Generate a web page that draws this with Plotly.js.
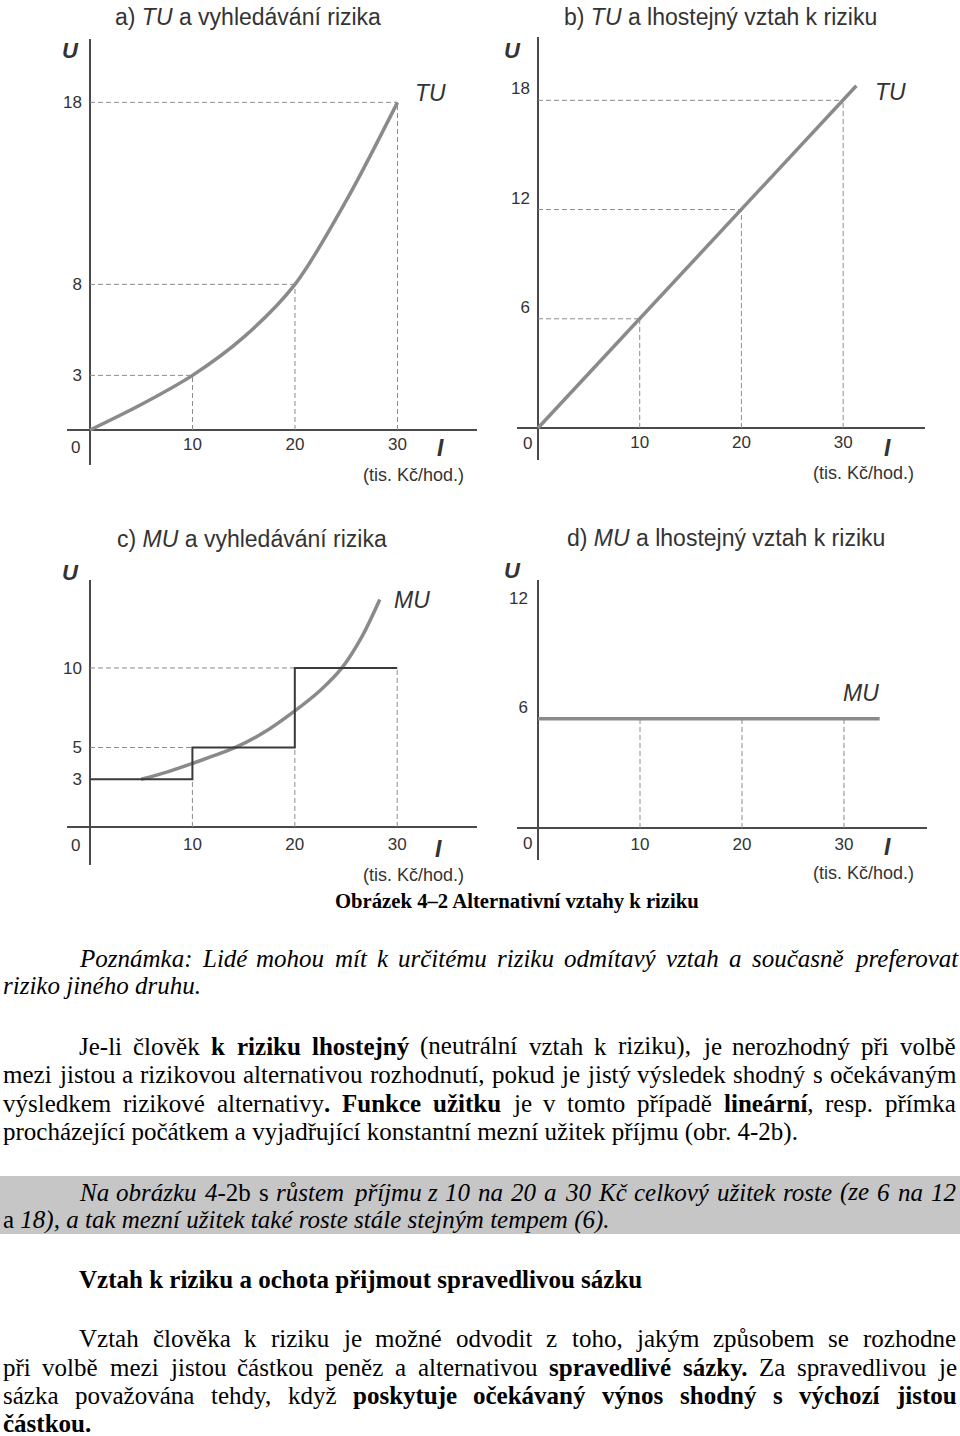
<!DOCTYPE html>
<html><head><meta charset="utf-8">
<script src="https://cdn.plot.ly/plotly-3.0.1.min.js"></script>
<style>html,body{margin:0;padding:0;background:#fff}#chart{width:960px;height:1436px}</style>
</head><body><div id="chart"></div>
<script>
// ---------- data ----------
const incomeTicks = [10, 20, 30];
// a) TU, risk seeking
const tuA_I = [0, 5, 10, 15, 20, 25, 30];
const tuA_U = [0, 1.4, 3, 5.1, 8, 12.6, 18];
const refA_I = [10, 20, 30];
const refA_U = [3, 8, 18];
// b) TU, risk neutral
const tuB_I = [0, 10, 20, 30, 31.3];
const tuB_U = [0, 6, 12, 18, 18.8];
const refB_I = [10, 20, 30];
const refB_U = [6, 12, 18];
// c) MU, risk seeking
const muC_I = [5, 7.5, 10, 14.2, 17, 20, 22.5, 24.6, 26.5, 28.3];
const muC_U = [3, 3.45, 4.0, 5, 5.95, 7.3, 8.6, 10, 11.9, 14.3];
const stepEdges = [0, 10, 20, 30];
const stepMU = [3, 5, 10];
// d) MU, risk neutral
const muD_I = [0, 33.5];
const muD_U = [6, 6];
const refD_I = [10, 20, 30];
// tick labels
const tickA_U = [3, 8, 18];
const tickB_U = [6, 12, 18];
const tickC_U = [3, 5, 10];
const tickD_U = [6, 12];

// ---------- text ----------
const titles = ['a) <i>TU</i> a vyhledávání rizika', 'b) <i>TU</i> a lhostejný vztah k riziku',
                'c) <i>MU</i> a vyhledávání rizika', 'd) <i>MU</i> a lhostejný vztah k riziku'];
const unitLabel = '(tis. Kč/hod.)';
const caption = 'Obrázek 4–2 Alternativní vztahy k riziku';
// each line: [y, xStart, justify, segments]
const bodyLines = [
  [958, 78, true,  [['Poznámka: Lidé mohou mít k určitému riziku odmítavý vztah a současně preferovat', 'i']]],
  [986, 2, false,  [['riziko jiného druhu.', 'i']]],
  [1046, 78, true, [['Je-li člověk ', 'n'], ['k riziku lhostejný', 'b'], [' (neutrální vztah k riziku), je nerozhodný při volbě', 'n']]],
  [1074, 2, true,  [['mezi jistou a rizikovou alternativou rozhodnutí, pokud je jistý výsledek shodný s očekávaným', 'n']]],
  [1103, 2, true,  [['výsledkem rizikové alternativy', 'n'], ['. Funkce užitku', 'b'], [' je v tomto případě ', 'n'], ['lineární', 'b'], [', resp. přímka', 'n']]],
  [1132, 2, false, [['procházející počátkem a vyjadřující konstantní mezní užitek příjmu (obr. 4-2b).', 'n']]],
  [1192, 78, true, [['Na obrázku 4-', 'i'], ['2b s', 'n'], [' růstem příjmu z 10 na 20 a 30 Kč celkový užitek roste (ze 6 na 12', 'i']]],
  [1220, 2, false, [['a ', 'n'], ['18), a tak mezní užitek také roste stále stejným tempem (6).', 'i']]],
  [1279, 78, false, [['Vztah k riziku a ochota přijmout spravedlivou sázku', 'b']]],
  [1338, 78, true, [['Vztah člověka k riziku je možné odvodit z toho, jakým způsobem se rozhodne', 'n']]],
  [1367, 2, true,  [['při volbě mezi jistou částkou peněz a alternativou ', 'n'], ['spravedlivé sázky.', 'b'], [' Za spravedlivou je', 'n']]],
  [1395, 2, true,  [['sázka považována tehdy, když ', 'n'], ['poskytuje očekávaný výnos shodný s výchozí jistou', 'b']]],
  [1423, 2, false, [['částkou.', 'b']]]
];

// ---------- helpers ----------
const W = 960, H = 1436;
const px = v => v / W, py = v => 1 - v / H;
const SANS = 'Liberation Sans', SERIF = 'Liberation Serif';
const canvas = document.createElement('canvas');
const ctx = canvas.getContext('2d');
function measure(t, s, size) {
  ctx.font = (s.includes('i') ? 'italic ' : '') + (s.includes('b') ? 'bold ' : '') + size + 'px "' + SERIF + '"';
  return ctx.measureText(t).width;
}
function wrap(t, s) {
  if (s === 'b') return '<b>' + t + '</b>';
  if (s === 'i') return '<i>' + t + '</i>';
  if (s === 'bi') return '<b><i>' + t + '</i></b>';
  return t;
}
// body font size fitted to the width of a non-justified reference line
const fitRef = 'procházející počátkem a vyjadřující konstantní mezní užitek příjmu (obr. 4-2b).';
let bodySize = 22 * 795 / measure(fitRef, 'n', 22);
bodySize = Math.round(bodySize * 10) / 10;
let capSize = 18 * 365 / measure(caption, 'b', 18);

const annotations = [];
function label(text, x, y, size, opts) {
  annotations.push(Object.assign({
    text: text, x: px(x), y: py(y), xref: 'paper', yref: 'paper',
    xanchor: 'center', yanchor: 'middle', showarrow: false, borderpad: 0,
    font: {family: SANS, size: size, color: '#333'}
  }, opts || {}));
}

// chart labels
const lay = [
  {t: [248, 17], U: [70, 50], N: ['TU', 430, 93], I: [440, 448], tis: [413, 475], z: [75, 448]},
  {t: [720, 17], U: [512, 50], N: ['TU', 890, 92], I: [887, 448], tis: [863, 473], z: [527, 443]},
  {t: [252, 539], U: [70, 572], N: ['MU', 412, 600], I: [438, 849], tis: [413, 875], z: [75, 845]},
  {t: [726, 538], U: [512, 570], N: ['MU', 861, 693], I: [887, 847], tis: [863, 873], z: [527, 843]}
];
lay.forEach((L, k) => {
  label(titles[k], L.t[0], L.t[1], 23);
  label('<b><i>U</i></b>', L.U[0], L.U[1], 22);
  label('<i>' + L.N[0] + '</i>', L.N[1], L.N[2], 23);
  label('<b><i>I</i></b>', L.I[0], L.I[1], 23);
  label(unitLabel, L.tis[0], L.tis[1], 18);
  label('0', L.z[0], L.z[1], 17);
});
label('<b>' + caption + '</b>', 517, 902, capSize, {font: {family: SERIF, size: capSize, color: '#000'}});

// body text; justified lines are laid out word by word
bodyLines.forEach(([y, x0, justify, segs]) => {
  const base = {xref: 'paper', yref: 'paper', y: py(y), xanchor: 'left', yanchor: 'middle',
                showarrow: false, borderpad: 0, font: {family: SERIF, size: bodySize, color: '#000'}};
  if (!justify) {
    annotations.push(Object.assign({text: segs.map(([t, s]) => wrap(t, s)).join(''), x: px(x0)}, base));
    return;
  }
  const words = [];
  let cur = null;
  segs.forEach(([t, s]) => {
    t.split(' ').forEach((part, j) => {
      if (j > 0) cur = null;
      if (part !== '') {
        if (!cur) { cur = []; words.push(cur); }
        cur.push([part, s]);
      }
    });
  });
  const widths = words.map(w => w.reduce((a, [t, s]) => a + measure(t, s, bodySize), 0));
  const total = widths.reduce((a, b) => a + b, 0);
  const gap = (955 - x0 - total) / (words.length - 1);
  let x = x0;
  words.forEach((w, i) => {
    annotations.push(Object.assign({text: w.map(([t, s]) => wrap(t, s)).join(''), x: px(x)}, base));
    x += widths[i] + gap;
  });
});

// ---------- traces ----------
const traces = [];
const CURVE = '#8a8a8a', DASH = '#8c8c8c', STEP = '#3a3a3a';
function line(xs, ys, ax, color, width, dash, shape, smooth) {
  traces.push({x: xs, y: ys, xaxis: ax[0], yaxis: ax[1], type: 'scatter', mode: 'lines',
    line: {color: color, width: width, dash: dash || 'solid', shape: shape || 'linear', smoothing: smooth || 1},
    hoverinfo: 'skip', showlegend: false});
}
function guides(xs, ys, ax) {
  xs.forEach((x, i) => {
    line([0, x], [ys[i], ys[i]], ax, DASH, 1, '5px,3px');
    line([x, x], [0, ys[i]], ax, DASH, 1, '5px,3px');
  });
}
// a
guides(refA_I, refA_U, ['x', 'y']);
line(tuA_I, tuA_U, ['x', 'y'], CURVE, 3.5, 'solid', 'spline', 0.9);
// b
guides(refB_I, refB_U, ['x2', 'y2']);
line(tuB_I, tuB_U, ['x2', 'y2'], CURVE, 3.5);
// c
for (let k = 1; k < stepEdges.length; k++) {
  line([stepEdges[k], stepEdges[k]], [0, stepMU[k - 1]], ['x3', 'y3'], DASH, 1, '5px,3px');
}
for (let k = 1; k < stepMU.length; k++) {
  line([0, stepEdges[k]], [stepMU[k], stepMU[k]], ['x3', 'y3'], DASH, 1, '5px,3px');
}
line(muC_I, muC_U, ['x3', 'y3'], CURVE, 3.5, 'solid', 'spline', 0.9);
line(stepEdges, stepMU.concat([stepMU[stepMU.length - 1]]), ['x3', 'y3'], STEP, 2, 'solid', 'hv');
// d
refD_I.forEach(x => line([x, x], [0, muD_U[0]], ['x4', 'y4'], DASH, 1, '5px,3px'));
line(muD_I, muD_U, ['x4', 'y4'], CURVE, 3.5);

// ---------- axes ----------
function axis(domain, range, pos, tickvals, extra) {
  return Object.assign({
    domain: domain, range: range, anchor: 'free', position: pos,
    showgrid: false, zeroline: true, zerolinecolor: '#4a4a4a', zerolinewidth: 1.6,
    showline: false, ticks: '', tickvals: tickvals, ticktext: tickvals.map(String),
    tickfont: {family: SANS, size: 17, color: '#333'}, fixedrange: true
  }, extra || {});
}
const layout = {
  width: W, height: H, margin: {l: 0, r: 0, t: 0, b: 0},
  paper_bgcolor: '#fff', plot_bgcolor: 'rgba(0,0,0,0)', showlegend: false,
  xaxis:  axis([px(67), px(477)],  [-2.244, 37.76], py(430), incomeTicks, {ticklabelstandoff: 2}),
  yaxis:  axis([py(465), py(39)],  [-1.923, 21.48], px(90), tickA_U, {ticklabelstandoff: 8}),
  xaxis2: axis([px(517), px(925)], [-2.065, 38.05], py(428), incomeTicks, {ticklabelstandoff: 2}),
  yaxis2: axis([py(460), py(37)],  [-1.758, 21.48], px(538), tickB_U, {ticklabelshift: -12, ticklabelstandoff: 8}),
  xaxis3: axis([px(67), px(477)],  [-2.246, 37.79], py(827), incomeTicks, {ticklabelstandoff: 5}),
  yaxis3: axis([py(865), py(580)], [-2.39, 15.53], px(90), tickC_U, {ticklabelstandoff: 8}),
  xaxis4: axis([px(517), px(927)], [-2.06, 38.14], py(828), incomeTicks, {ticklabelstandoff: 4}),
  yaxis4: axis([py(860), py(580)], [-1.758, 13.63], px(538), tickD_U, {ticklabelshift: -12, ticklabelstandoff: 10}),
  shapes: [{type: 'rect', xref: 'paper', yref: 'paper', x0: 0, x1: 1, y0: py(1234), y1: py(1176),
            fillcolor: '#c6c6c6', line: {width: 0}, layer: 'below'}],
  annotations: annotations
};
Plotly.newPlot('chart', traces, layout, {displayModeBar: false, staticPlot: true});
</script></body></html>
